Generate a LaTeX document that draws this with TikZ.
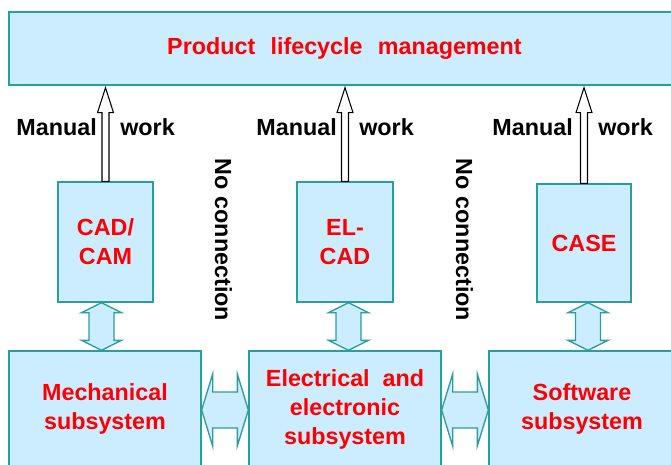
\documentclass[tikz,border=0pt]{standalone}
\usepackage{fontspec}
\setmainfont{Liberation Sans}
\usetikzlibrary{calc}
\definecolor{boxfill}{HTML}{CCECFF}
\definecolor{boxline}{HTML}{2A9D9D}
\definecolor{lblred}{HTML}{FF0000}
\tikzset{
  bigfont/.style={font=\fontsize{17.5}{21.75}\selectfont\bfseries},
  sysbox/.style={draw=boxline, fill=boxfill, line width=1pt, inner sep=0pt, bigfont, text=lblred, align=center},
  hollow/.style={draw=black, fill=white, line width=0.8pt, line join=miter},
  dbl/.style={draw=boxline, fill=boxfill, line width=1pt, line join=miter},
  lbl/.style={bigfont, text=black, inner sep=0pt}
}
\newcommand\uparr[2]{%
  \draw[hollow] ($#1+(-3.5,0)$) -- ($#2+(-3.5,25)$) -- ($#2+(-8,25)$) -- #2 -- ($#2+(8,25)$) -- ($#2+(3.5,25)$) -- ($#1+(3.5,0)$) -- cycle;}
\newcommand\vdarr[2]{%
  \draw[dbl] #1 -- ($#1+(20,10)$) -- ($#1+(12.5,10)$) -- ($#2+(12.5,-10)$) -- ($#2+(20,-10)$) -- #2 -- ($#2+(-20,-10)$) -- ($#2+(-12.5,-10)$) -- ($#1+(-12.5,10)$) -- ($#1+(-20,10)$) -- cycle;}
\newcommand\hdarr[2]{%
  \draw[dbl] #1 -- ($#1+(11,-36)$) -- ($#1+(11,-18)$) -- ($#2+(-11,-18)$) -- ($#2+(-11,-36)$) -- #2 -- ($#2+(-11,36)$) -- ($#2+(-11,18)$) -- ($#1+(11,18)$) -- ($#1+(11,36)$) -- cycle;}
\begin{document}
\begin{tikzpicture}[x=0.75pt, y=-0.75pt]
\useasboundingbox (0,0) rectangle (671,464);
\clip (0,0) rectangle (671,464);
% top box
\node[sysbox, minimum width=671*0.75pt, minimum height=73*0.75pt] (plm) at (344.5,48.5) {Product\hspace{0.65em}lifecycle\hspace{0.65em}management};
% tool boxes
\node[sysbox, minimum width=95*0.75pt, minimum height=120*0.75pt] (cad) at (105.5,242) {CAD/\\CAM};
\node[sysbox, minimum width=96*0.75pt, minimum height=120*0.75pt] (elcad) at (345,242) {EL-\\CAD};
\node[sysbox, minimum width=94*0.75pt, minimum height=118*0.75pt] (case) at (584,243) {CASE};
% subsystem boxes
\node[sysbox, minimum width=192*0.75pt, minimum height=116*0.75pt] (mech) at (105,409) {Mechanical\\subsystem};
\node[sysbox, minimum width=192*0.75pt, minimum height=116*0.75pt] (elec) at (345,409) {Electrical\hspace{0.55em}and\\electronic\\subsystem};
\node[sysbox, minimum width=186*0.75pt, minimum height=116*0.75pt] (soft) at (582,409) {Software\\subsystem};
% manual work arrows
\uparr{(cad.north)}{($(cad.north |- plm.south)+(0,2)$)}
\uparr{(elcad.north)}{($(elcad.north |- plm.south)+(0,2)$)}
\uparr{(case.north)}{($(case.north |- plm.south)+(0,2)$)}
\node[lbl, anchor=east] (m1) at (97,127) {Manual};
\node[lbl, anchor=west] (w1) at (120,127) {work};
\node[lbl, anchor=east] (m2) at (337,127) {Manual};
\node[lbl, anchor=west] (w2) at (359,127) {work};
\node[lbl, anchor=east] (m3) at (573,127) {Manual};
\node[lbl, anchor=west] (w3) at (598,127) {work};
% no connection
\node[lbl, rotate=-90] (nc1) at (223.5,240) {No\ connection};
\node[lbl, rotate=-90] (nc2) at (464.5,240) {No\ connection};
% vertical double arrows
\vdarr{($(cad.south)+(-4,0)$)}{($(cad.south |- mech.north)+(-4,0)$)}
\vdarr{($(elcad.south)+(3.5,0)$)}{($(elcad.south |- elec.north)+(3.5,0)$)}
\vdarr{($(case.south)+(4,0)$)}{($(case.south |- soft.north)+(4,0)$)}
% horizontal double arrows
\hdarr{($(mech.east)+(0,1)$)}{($(elec.west)+(0,1)$)}
\hdarr{($(elec.east)+(0,1)$)}{($(soft.west)+(0,1)$)}
\end{tikzpicture}
\end{document}
